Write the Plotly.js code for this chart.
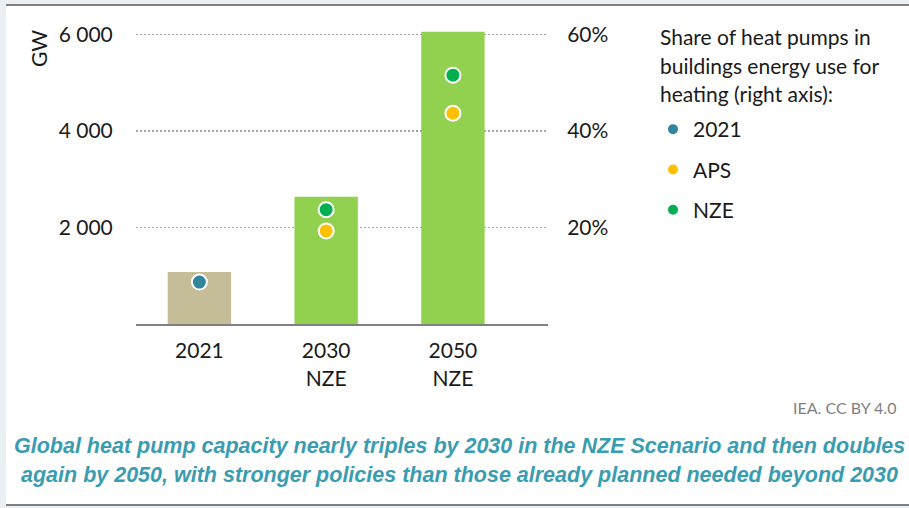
<!DOCTYPE html>
<html>
<head>
<meta charset="utf-8">
<script src="https://cdn.plot.ly/plotly-3.0.1.min.js"></script>
<style>
  html, body { margin: 0; padding: 0; background: #eaeff3; }
  #bg { position: absolute; left: 6px; top: 4px; width: 903px; height: 502px; background: #ffffff;
        border-top: 2px solid #7f7f7f; border-bottom: 2px solid #7f7f7f; box-sizing: border-box; }
  #chart { position: absolute; left: 0; top: 0; width: 909px; height: 508px; }
</style>
</head>
<body>
<div id="bg"></div>
<div id="chart"></div>
<script>
// ---- data ----
const categories = ['2021', '2030<br>NZE', '2050<br>NZE'];
const capacityGW = [1080, 2640, 6060];
const barColors = ['#c4bd97', '#92d050', '#92d050'];
const x2021 = ['2021'];
const share2021 = [8.7];
const xScen = ['2030<br>NZE', '2050<br>NZE'];
const shareAPS = [19.3, 43.7];
const shareNZE = [23.7, 51.6];
const leftTickVals = [2000, 4000, 6000];
const leftTickText = ['2 000', '4 000', '6 000'];
const rightTickVals = [20, 40, 60];
const rightTickText = ['20%', '40%', '60%'];
const legendTitleLines = ['Share of heat pumps in', 'buildings energy use for', 'heating (right axis):'];
const captionLines = ['Global heat pump capacity nearly triples by 2030 in the NZE Scenario and then doubles',
                      'again by 2050, with stronger policies than those already planned needed beyond 2030'];
const sourceText = 'IEA. CC BY 4.0';

// ---- geometry ----
const W = 909, H = 508;
const ml = 136, mr = W - 548, mt = 25, mb = H - 324;
const pw = W - ml - mr, ph = H - mt - mb;
const px = x => (x - ml) / pw;
const py = y => (H - mb - y) / ph;

const FONT = 'Lato, "Open Sans", sans-serif';
const TXT = '#1a1a1a';
const FS = 21;

const dotLine = {color: '#ffffff', width: 2};
const traces = [
  {type: 'bar', x: categories, y: capacityGW, width: 0.5, marker: {color: barColors},
   showlegend: false, hoverinfo: 'skip'},
  {type: 'scatter', mode: 'markers', x: x2021, y: share2021, yaxis: 'y2', name: '2021',
   legendgroup: 'a', marker: {color: '#31859c', size: 15, line: dotLine}},
  {type: 'scatter', mode: 'markers', x: xScen, y: shareAPS, yaxis: 'y2', name: 'APS',
   legendgroup: 'b', marker: {color: '#ffc000', size: 15, line: dotLine}},
  {type: 'scatter', mode: 'markers', x: xScen, y: shareNZE, yaxis: 'y2', name: 'NZE',
   legendgroup: 'c', marker: {color: '#00b050', size: 15, line: dotLine}}
];

const annotations = [
  {text: 'GW', textangle: -90, x: px(39), y: py(49), xref: 'paper', yref: 'paper',
   xanchor: 'center', yanchor: 'middle',
   showarrow: false, font: {family: FONT, size: FS, color: TXT}},
  {text: sourceText, x: px(898), y: py(407), xref: 'paper', yref: 'paper', xanchor: 'right', yanchor: 'middle',
   showarrow: false, font: {family: FONT, size: 16, color: '#7f7f7f'}}
];
legendTitleLines.forEach((t, i) => annotations.push({
  text: t, x: px(658), y: py(37 + i * 28.5), xref: 'paper', yref: 'paper', xanchor: 'left', yanchor: 'middle',
  showarrow: false, font: {family: FONT, size: FS, color: TXT}
}));
captionLines.forEach((t, i) => annotations.push({
  text: '<b><i>' + t + '</i></b>', x: px(459), y: py(446 + i * 29), xref: 'paper', yref: 'paper',
  xanchor: 'center', yanchor: 'middle', showarrow: false,
  font: {family: '"Liberation Sans", Arial, sans-serif', size: 21.5, color: '#3a9cb0'}
}));

const layout = {
  width: W, height: H,
  margin: {l: ml, r: mr, t: mt, b: mb, pad: 0},
  paper_bgcolor: 'rgba(0,0,0,0)', plot_bgcolor: 'rgba(0,0,0,0)',
  font: {family: FONT, size: FS, color: TXT},
  showlegend: true,
  legend: {x: px(653), y: py(109), xanchor: 'left', yanchor: 'top', bgcolor: 'rgba(0,0,0,0)',
           font: {family: FONT, size: FS, color: TXT}, tracegroupgap: 10, itemsizing: 'constant'},
  bargap: 0.5,
  xaxis: {type: 'category', range: [-0.5, 2.75], showgrid: false, zeroline: false,
          showline: true, linecolor: '#808080', linewidth: 2,
          ticks: 'outside', ticklen: 7, tickcolor: 'rgba(0,0,0,0)', tickfont: {size: FS}, fixedrange: true},
  yaxis: {range: [0, 6200], tickvals: leftTickVals, ticktext: leftTickText, showgrid: true,
          gridcolor: '#a6a6a6', gridwidth: 1.5, griddash: '2px,2px', zeroline: false, showline: false,
          ticks: 'outside', ticklen: 18, tickcolor: 'rgba(0,0,0,0)', tickfont: {size: FS}},
  yaxis2: {overlaying: 'y', side: 'right', range: [0, 62], tickvals: rightTickVals, ticktext: rightTickText,
           showgrid: false, zeroline: false, showline: false,
           ticks: 'outside', ticklen: 14, tickcolor: 'rgba(0,0,0,0)', tickfont: {size: FS}},
  annotations: annotations
};

Plotly.newPlot('chart', traces, layout, {displayModeBar: false, staticPlot: true});
</script>
</body>
</html>
